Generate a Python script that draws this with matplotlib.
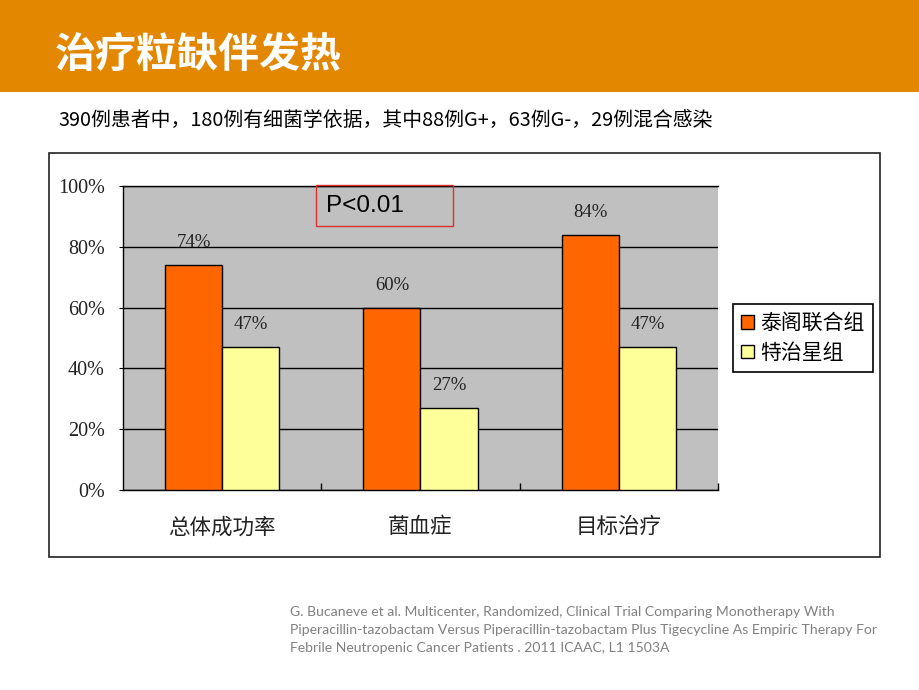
import numpy as np
import matplotlib
matplotlib.use("Agg")
import matplotlib.pyplot as plt
from matplotlib.patches import Rectangle, Patch

plt.rcParams['font.family'] = ['Noto Sans CJK SC', 'DejaVu Sans']

title = "治疗粒缺伴发热"
subtitle = "390例患者中，180例有细菌学依据，其中88例G+，63例G-，29例混合感染"
categories = ["总体成功率", "菌血症", "目标治疗"]
series_names = ["泰阁联合组", "特治星组"]
combo_vals = [74, 60, 84]
mono_vals = [47, 27, 47]
yticks = [0, 20, 40, 60, 80, 100]
p_text = "P<0.01"
citation = ("G. Bucaneve et al. Multicenter, Randomized, Clinical Trial Comparing Monotherapy With\n"
            "Piperacillin-tazobactam Versus Piperacillin-tazobactam Plus Tigecycline As Empiric Therapy For\n"
            "Febrile Neutropenic Cancer Patients . 2011 ICAAC, L1 1503A")

W, H = 920, 690
fig = plt.figure(figsize=(W / 100, H / 100), dpi=100)

# orange header band
fig.patches.append(Rectangle((0, 1 - 92 / H), 1, 92 / H, transform=fig.transFigure,
                             facecolor='#E38600', edgecolor='none', zorder=-2))
fig.text(55 / W, 1 - 55 / H, title, color='white', fontsize=29.5, fontweight='bold',
         va='center', ha='left')
fig.text(58 / W, 1 - 120 / H, subtitle, color='black', fontsize=14.3, va='center', ha='left')

# outer chart frame
fig.patches.append(Rectangle((49 / W, 1 - 557 / H), 831 / W, 404 / H, transform=fig.transFigure,
                             facecolor='white', edgecolor='#222222', linewidth=1.2, zorder=-1))

ax = fig.add_axes([123 / W, 1 - 490 / H, 595 / W, 304 / H])
ax.set_zorder(1)
ax.set_facecolor('#C0C0C0')
x = np.arange(len(categories))
bw = 0.288
b1 = ax.bar(x - bw / 2, combo_vals, bw, color='#FF6600', edgecolor='black', linewidth=1,
            label=series_names[0], zorder=3)
b2 = ax.bar(x + bw / 2, mono_vals, bw, color='#FFFF99', edgecolor='black', linewidth=1,
            label=series_names[1], zorder=3)
for bars, vals in ((b1, combo_vals), (b2, mono_vals)):
    for rect, v in zip(bars, vals):
        ax.annotate(f"{v}%", (rect.get_x() + rect.get_width() / 2, v), xytext=(0, 10),
                    textcoords='offset points', ha='center', va='bottom',
                    fontsize=13.5, family='Liberation Serif', color='#222222')

ax.set_xlim(-0.5, len(categories) - 0.5)
ax.set_ylim(0, 100)
ax.set_yticks(yticks)
ax.set_yticklabels([f"{v}%" for v in yticks], family='Liberation Serif', fontsize=14.5,
                   color='#222222')
ax.yaxis.grid(True, color='black', linewidth=1)
ax.set_axisbelow(True)
ax.tick_params(axis='y', direction='out', length=3, pad=10)
ax.set_xticks(x)
ax.set_xticklabels(categories, fontsize=15.5, color='#222222')
ax.tick_params(axis='x', which='major', length=0, pad=19)
ax.set_xticks([0.5, 1.5, 2.5], minor=True)
ax.tick_params(axis='x', which='minor', direction='in', length=5, width=1)
ax.spines['right'].set_visible(False)
for s in ('left', 'bottom', 'top'):
    ax.spines[s].set_color('black')
    ax.spines[s].set_linewidth(1)

# P value box
fig.patches.append(Rectangle((316 / W, 1 - 226 / H), 137 / W, 41 / H, transform=fig.transFigure,
                             facecolor='none', edgecolor='#E03030', linewidth=1, zorder=5))
fig.text(326 / W, 1 - 206 / H, p_text, family='Liberation Sans', fontsize=17.5,
         va='center', ha='left', zorder=6)

handles = [Patch(facecolor='#FF6600', edgecolor='black'),
           Patch(facecolor='#FFFF99', edgecolor='black')]
leg = fig.legend(handles, series_names, loc='upper left',
                 bbox_to_anchor=(733 / W, 1 - 304 / H), borderaxespad=0,
                 fancybox=False, edgecolor='black', framealpha=1, fontsize=15,
                 handlelength=0.6, handleheight=0.6, handletextpad=0.3,
                 labelspacing=0.35, borderpad=0.4)
leg.get_frame().set_linewidth(1.2)
leg.set_zorder(7)

fig.text(290 / W, 1 - 630 / H, citation, color='#808080', fontsize=10.1, family='Lato',
         va='center', ha='left', linespacing=1.6)

fig.savefig('out.png', dpi=100)
